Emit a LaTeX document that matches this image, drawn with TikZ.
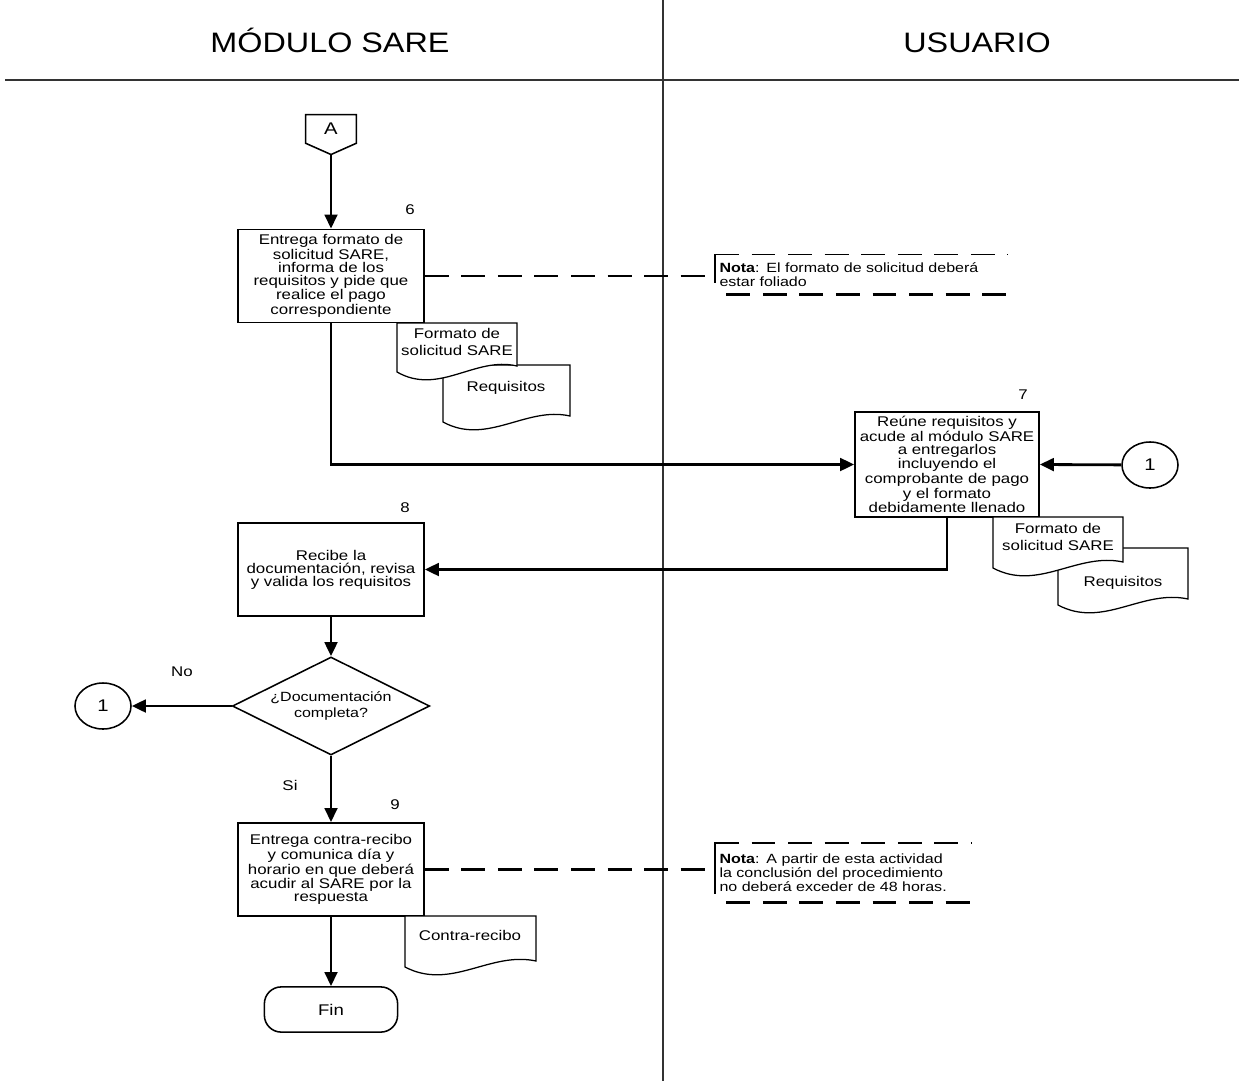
\documentclass[tikz,border=0pt]{standalone}
\usepackage{fontspec}
\setmainfont{Liberation Sans}[FakeStretch=1.2]
\newfontfamily\titulo{Liberation Sans}[FakeStretch=1.15]
\usetikzlibrary{arrows.meta,shapes.geometric,positioning}

\tikzset{
  proceso/.style={draw, line width=1.1pt, fill=white, minimum width=4.65cm, minimum height=2.33cm, align=center, inner sep=2pt, font=\fontsize{10}{9.3}\selectfont},
  decision/.style={draw, diamond, line width=1.1pt, minimum width=4.93cm, minimum height=2.45cm, inner sep=0pt, shape aspect=2, align=center, font=\fontsize{9.5}{12}\selectfont},
  conector/.style={draw, ellipse, line width=1.1pt, minimum width=1.4cm, minimum height=1.15cm, font=\fontsize{12}{12}\selectfont},
  terminal/.style={draw, rounded corners=12pt, line width=1.1pt, minimum width=3.33cm, minimum height=1.13cm, font=\fontsize{11}{11}\selectfont},
  flecha/.style={line width=2pt, -{Triangle[length=10pt,width=9pt]}},
  guion/.style={line width=1.6pt, dash pattern=on 17pt off 9pt},
  nota/.style={align=left, inner xsep=3pt, anchor=west, font=\fontsize{9.5}{10}\selectfont},
  docu/.style={draw, line width=0.9pt, fill=white},
  doctexto/.style={align=center, font=\fontsize{10}{12}\selectfont},
  numero/.style={font=\fontsize{10}{10}\selectfont},
  carril/.style={anchor=base, font=\titulo\fontsize{20}{20}\selectfont}
}

\begin{document}
\begin{tikzpicture}[x=0.025cm, y=-0.025cm]
\useasboundingbox (0,0) rectangle (1239,1081);

% carriles
\draw[line width=1.8pt, black!80] (5,80) -- (1239,80);
\draw[line width=1pt, black!80] (663,0) -- (663,1081);
\node[carril] (modulo) at (330,52) {MÓDULO SARE};
\node[carril] (usuario) at (977,52) {USUARIO};

% conector de pagina
\node[minimum width=1.25cm, minimum height=0.7cm, font=\fontsize{12}{12}\selectfont] (A) at (331,129) {A};
\coordinate (Apunta) at ([yshift=-8pt]A.south);
\draw[line width=1.1pt] (A.south west) -- (A.north west) -- (A.north east) -- (A.south east) -- (Apunta) -- cycle;

% actividades
\node[proceso] (b6) at (331,276) {Entrega formato de\\solicitud SARE,\\informa de los\\requisitos y pide que\\realice el pago\\correspondiente};
\node[proceso, minimum width=4.6cm, minimum height=2.63cm] (b7) at (947,464.5) {Reúne requisitos y\\acude al módulo SARE\\a entregarlos\\incluyendo el\\comprobante de pago\\y el formato\\debidamente llenado};
\node[proceso] (b8) at (331,569.5) {Recibe la\\documentación, revisa\\y valida los requisitos};
\node[decision] (dec) at (331,706) {¿Documentación\\completa?};
\node[proceso] (b9) at (331,869.5) {Entrega contra-recibo\\y comunica día y\\horario en que deberá\\acudir al SARE por la\\respuesta};
\node[terminal] (fin) at (331,1009.5) {Fin};
\node[conector] (c1a) at (1150,465) {1};
\node[conector] (c1b) at (103,706) {1};

\node[numero] (n6) at (410,210) {6};
\node[numero] (n7) at (1023,395) {7};
\node[numero] (n8) at (405,508) {8};
\node[numero] (n9) at (395,805) {9};

% flujo
\draw[flecha] (Apunta) -- (b6.north);
\draw[flecha] (b6.south) |- (b7.west);
\draw[flecha] (c1a) -- (b7.east);
\draw[flecha] (b7.south) |- (b8.east);
\draw[flecha] (b8) -- (dec);
\draw[flecha] (dec) -- (c1b);
\draw[flecha] (dec) -- (b9);
\draw[flecha] (b9) -- (fin);
\node[numero] (no) at (182,672) {No};
\node[numero] (si) at (290,785) {Si};

% documentos
\filldraw[docu] (443,365) -- (443,422) .. controls (487,446) and (526,406) .. (570,416) -- (570,365) -- cycle;
\node[doctexto] (d2) at (506,388) {Requisitos};
\filldraw[docu] (397,323) -- (397,372) .. controls (439,396) and (475,356) .. (517,366) -- (517,323) -- cycle;
\node[doctexto] (d1) at (457,342) {Formato de\\solicitud SARE};
\filldraw[docu] (1058,548) -- (1058,605) .. controls (1103,629) and (1142,589) .. (1188,599) -- (1188,548) -- cycle;
\node[doctexto] (d4) at (1123,583) {Requisitos};
\filldraw[docu] (993,517) -- (993,568) .. controls (1038,592) and (1077,552) .. (1123,562) -- (1123,517) -- cycle;
\node[doctexto] (d3) at (1058,537) {Formato de\\solicitud SARE};
\filldraw[docu] (405,916) -- (405,967) .. controls (451,991) and (490,951) .. (536,961) -- (536,916) -- cycle;
\node[doctexto] (d5) at (470,935) {Contra-recibo};

% notas
\node[nota, text width=7.1cm, minimum height=0.98cm] (nota1) at (715,274.5) {\textbf{Nota}: El formato de solicitud deberá\\estar foliado};
\draw[guion] (b6.east) -- (b6.east -| nota1.west);
\draw[line width=1.2pt] ([xshift=4pt]nota1.north west) -- (nota1.north west) -- ([yshift=8pt]nota1.south west);
\draw[guion, line width=1.2pt] (nota1.north west) -- (nota1.north east);
\draw[guion, line width=2.2pt] ([xshift=8pt]nota1.south west) -- (nota1.south east);

\node[nota, text width=6.2cm, minimum height=1.47cm] (nota2) at (715,872.5) {\textbf{Nota}: A partir de esta actividad\\la conclusión del procedimiento\\no deberá exceder de 48 horas.};
\draw[guion] (b9.east) -- (b9.east -| nota2.west);
\draw[line width=1.2pt] ([xshift=4pt]nota2.north west) -- (nota2.north west) -- ([yshift=6pt]nota2.south west);
\draw[guion, line width=1.2pt] (nota2.north west) -- (nota2.north east);
\draw[guion, line width=2.2pt] ([xshift=8pt]nota2.south west) -- (nota2.south east);
\end{tikzpicture}
\end{document}
